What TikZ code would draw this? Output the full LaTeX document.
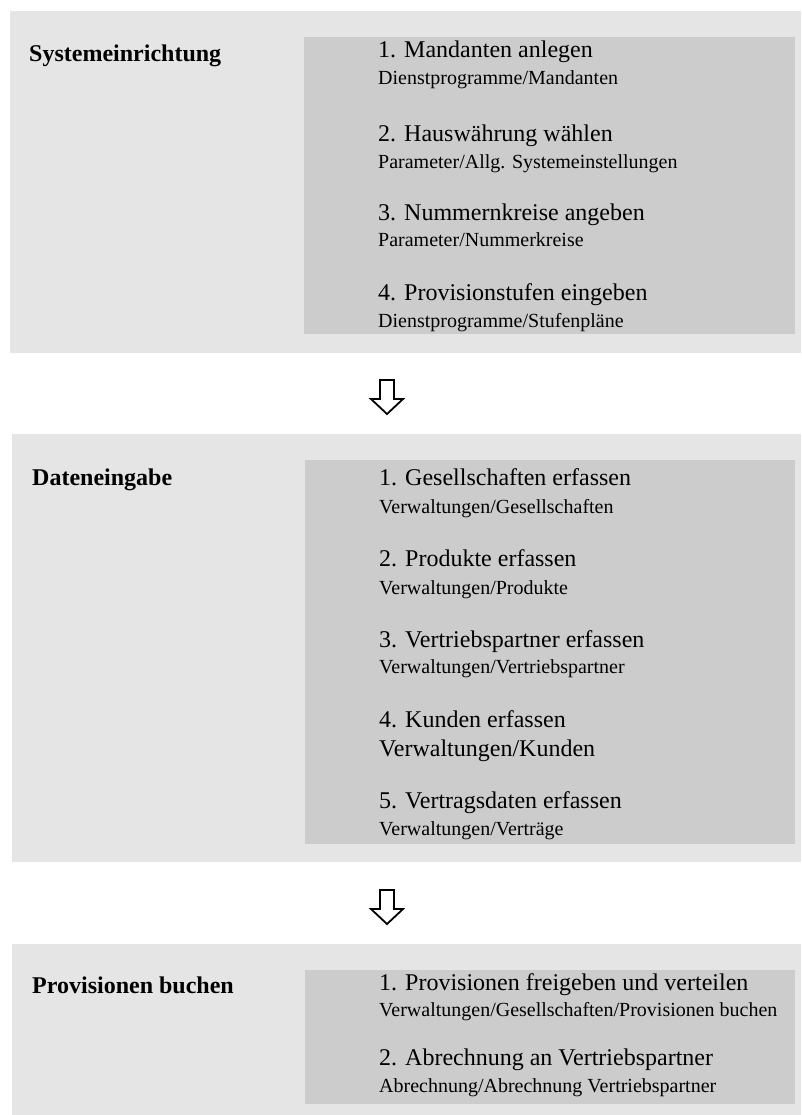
\documentclass[tikz,border=0pt]{standalone}
\usepackage{fontspec}
\setmainfont{Liberation Serif}
\definecolor{outergray}{HTML}{E5E5E5}
\definecolor{innergray}{HTML}{CCCCCC}
\tikzset{
  outerbox/.style={fill=outergray, draw=none, inner sep=0, anchor=north west},
  innerbox/.style={fill=innergray, draw=none, inner sep=0, anchor=north west},
  titletext/.style={anchor=base west, inner sep=0, font=\fontsize{24}{28}\selectfont\bfseries},
  itemtext/.style={anchor=base west, inner sep=0, font=\fontsize{24}{28}\selectfont},
  subtext/.style={anchor=base west, inner sep=0, font=\fontsize{20}{24}\selectfont},
  hollowarrow/.pic={
    \draw[line width=1.8, line join=miter, fill=white]
      (-7,0) -- (7,0) -- (7,19) -- (16,19) -- (0,34) -- (-16,19) -- (-7,19) -- cycle;
  }
}
\begin{document}
\begin{tikzpicture}[x=1pt,y=-1pt]
\useasboundingbox (0,0) rectangle (801,1115);
% Box 1
\node[outerbox, minimum width=791, minimum height=342] (o1) at (10,11) {};
\node[innerbox, minimum width=491, minimum height=297] (i1) at (304,37) {};
\node[titletext] (t1) at (29,62) {Systemeinrichtung};
\node[itemtext] (a1) at (378,58) {1. Mandanten anlegen};
\node[subtext] (s1) at (378,85) {Dienstprogramme/Mandanten};
\node[itemtext] (a2) at (378,142) {2. Hauswährung wählen};
\node[subtext] (s2) at (378,169) {Parameter/Allg. Systemeinstellungen};
\node[itemtext] (a3) at (378,221) {3. Nummernkreise angeben};
\node[subtext] (s3) at (378,247) {Parameter/Nummerkreise};
\node[itemtext] (a4) at (378,300) {4. Provisionstufen eingeben};
\node[subtext] (s4) at (378,327) {Dienstprogramme/Stufenpläne};
% Arrow 1
\pic at (387,380) {hollowarrow};
% Box 2
\node[outerbox, minimum width=789, minimum height=428] (o2) at (12,434) {};
\node[innerbox, minimum width=490, minimum height=384] (i2) at (305,460) {};
\node[titletext] (t2) at (32,485) {Dateneingabe};
\node[itemtext] (b1) at (379,485) {1. Gesellschaften erfassen};
\node[subtext] (u1) at (379,513) {Verwaltungen/Gesellschaften};
\node[itemtext] (b2) at (379,566) {2. Produkte erfassen};
\node[subtext] (u2) at (379,594) {Verwaltungen/Produkte};
\node[itemtext] (b3) at (379,647) {3. Vertriebspartner erfassen};
\node[subtext] (u3) at (379,673) {Verwaltungen/Vertriebspartner};
\node[itemtext] (b4) at (379,727) {4. Kunden erfassen};
\node[itemtext] (u4) at (379,756) {Verwaltungen/Kunden};
\node[itemtext] (b5) at (379,808) {5. Vertragsdaten erfassen};
\node[subtext] (u5) at (379,835) {Verwaltungen/Verträge};
% Arrow 2
\pic at (387,890) {hollowarrow};
% Box 3
\node[outerbox, minimum width=789, minimum height=171] (o3) at (12,944) {};
\node[innerbox, minimum width=490, minimum height=134] (i3) at (305,970) {};
\node[titletext] (t3) at (32,993) {Provisionen buchen};
\node[itemtext] (c1) at (379,990) {1. Provisionen freigeben und verteilen};
\node[subtext] (v1) at (379,1016) {Verwaltungen/Gesellschaften/Provisionen buchen};
\node[itemtext] (c2) at (379,1065) {2. Abrechnung an Vertriebspartner};
\node[subtext] (v2) at (379,1092) {Abrechnung/Abrechnung Vertriebspartner};
\end{tikzpicture}
\end{document}
